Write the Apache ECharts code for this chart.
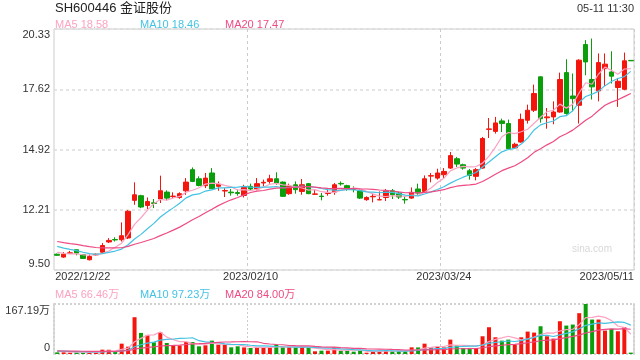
<!DOCTYPE html>
<html><head><meta charset="utf-8">
<script src="https://cdn.jsdelivr.net/npm/echarts@6/dist/echarts.min.js"></script>
<style>html,body{margin:0;padding:0;background:#fff}#c{width:640px;height:360px}</style>
</head><body><div id="c"></div>
<script>
const dates = ['2022/12/22','2022/12/23','2022/12/26','2022/12/27','2022/12/28','2022/12/29','2022/12/30',
'2023/01/03','2023/01/04','2023/01/05','2023/01/06','2023/01/09','2023/01/10','2023/01/11','2023/01/12','2023/01/13',
'2023/01/16','2023/01/17','2023/01/18','2023/01/19','2023/01/20','2023/01/30','2023/01/31',
'2023/02/01','2023/02/02','2023/02/03','2023/02/06','2023/02/07','2023/02/08','2023/02/09','2023/02/10',
'2023/02/13','2023/02/14','2023/02/15','2023/02/16','2023/02/17','2023/02/20','2023/02/21','2023/02/22','2023/02/23','2023/02/24',
'2023/02/27','2023/02/28','2023/03/01','2023/03/02','2023/03/03','2023/03/06','2023/03/07','2023/03/08','2023/03/09','2023/03/10',
'2023/03/13','2023/03/14','2023/03/15','2023/03/16','2023/03/17','2023/03/20','2023/03/21','2023/03/22','2023/03/23','2023/03/24',
'2023/03/27','2023/03/28','2023/03/29','2023/03/30','2023/03/31','2023/04/03','2023/04/04','2023/04/07',
'2023/04/10','2023/04/11','2023/04/12','2023/04/13','2023/04/14','2023/04/17','2023/04/18','2023/04/19','2023/04/20','2023/04/21',
'2023/04/24','2023/04/25','2023/04/26','2023/04/27','2023/04/28','2023/05/04','2023/05/05','2023/05/08','2023/05/09','2023/05/10','2023/05/11'];

const opens = [10.21,10.08,10.25,10.41,10.19,9.96,10.18,10.30,10.76,10.87,
10.86,10.94,12.63,12.84,12.40,12.52,12.69,13.00,12.80,12.76,
13.06,14.01,13.60,13.29,13.86,13.26,13.05,13.00,12.98,12.85,
13.26,13.14,13.41,13.48,13.60,13.45,12.93,13.33,13.03,13.38,
12.90,12.82,12.94,13.00,13.39,13.29,13.16,13.06,12.66,12.79,
12.65,12.76,13.06,12.96,12.67,12.73,13.14,13.03,13.72,13.63,
13.78,14.08,14.50,14.23,13.96,13.71,14.08,15.82,15.73,16.20,
16.08,14.99,15.25,16.23,16.68,18.18,16.34,16.38,16.60,18.37,
17.32,16.90,19.63,18.06,17.55,18.55,18.40,17.70,17.62,18.92];
const closes = [10.16,10.21,10.27,10.26,10.02,10.11,10.21,10.60,10.83,10.85,
11.04,12.14,12.88,12.33,12.58,12.49,13.06,12.73,12.82,12.93,
13.45,13.48,13.30,13.63,13.15,13.35,13.07,12.97,12.94,13.21,
13.14,13.38,13.44,13.60,13.41,12.81,13.26,13.11,13.33,12.93,
12.92,12.80,12.96,13.33,13.37,13.18,13.12,12.73,12.76,12.81,
12.66,13.05,12.88,12.78,12.65,12.99,12.96,13.60,13.74,13.86,
13.93,14.64,14.26,14.08,13.75,14.01,15.41,15.84,16.11,16.08,
14.95,15.15,16.27,16.68,17.43,16.30,16.38,16.60,18.06,16.53,
17.20,18.93,18.85,17.73,18.82,18.75,18.21,17.98,18.90,18.90];
const lows = [10.14,10.05,10.22,10.16,10.00,9.93,10.15,10.26,10.71,10.78,
10.78,10.89,12.43,12.28,12.24,12.28,12.51,12.63,12.73,12.70,
12.88,13.45,13.26,13.18,13.14,13.06,12.78,12.84,12.84,12.76,
13.08,13.08,13.26,13.38,13.33,12.78,12.88,12.93,12.88,12.91,
12.88,12.63,12.84,12.88,13.29,13.06,12.99,12.69,12.61,12.54,
12.65,12.60,12.69,12.69,12.48,12.70,12.88,13.00,13.44,13.56,
13.63,14.04,14.13,14.01,13.56,13.53,14.05,15.43,15.63,15.70,
14.92,14.95,15.22,16.08,16.60,16.12,15.85,16.05,16.57,16.48,
16.63,16.08,18.25,17.16,17.08,17.77,17.88,16.83,17.58,18.90];
const highs = [10.24,10.30,10.36,10.42,10.21,10.19,10.24,10.71,10.93,10.97,
11.64,12.19,13.44,12.88,12.76,12.69,13.74,13.08,12.99,12.99,
13.63,14.11,13.71,13.86,14.08,13.48,13.18,13.14,13.11,13.33,
13.38,13.63,13.56,13.78,13.89,13.48,13.38,13.48,13.59,13.41,
13.14,12.96,13.11,13.41,13.48,13.33,13.26,13.11,12.81,12.96,
13.03,13.14,13.14,13.02,12.81,13.21,13.38,13.75,13.86,14.05,
14.08,14.80,14.58,14.28,14.04,14.08,15.48,16.33,16.38,16.30,
16.26,15.22,16.53,16.93,17.83,18.20,16.78,17.08,18.37,18.97,
18.33,18.97,19.83,19.90,19.23,19.23,19.33,18.13,19.27,18.92];
// volume, 万股
const volumes = [5.5,5.8,4.5,5.4,5.6,6.7,6.5,14.5,14.2,9.0,
34.6,24.6,123.0,70.5,62.6,39.1,72.7,36.9,29.0,28.5,
40.2,40.0,25.7,29.0,44.7,31.3,31.0,22.3,25.7,22.0,
20.1,22.3,22.6,22.0,31.3,22.3,22.8,22.0,22.4,20.1,
9.0,11.1,11.3,22.3,11.0,11.1,7.8,11.2,4.4,7.8,
11.1,13.4,9.0,9.2,8.8,22.3,22.0,34.6,22.3,24.6,
22.1,48.1,29.0,20.1,20.3,20.0,59.3,89.5,55.9,44.7,
48.1,31.3,55.9,74.9,71.6,92.8,59.3,51.4,109.6,95.1,
98.4,136.5,167.19,115.2,115.2,78.3,83.9,76.0,89.5,4.6];
// sessions before the first visible one (only used for the moving averages)
const prevCloses = [11.20,11.12,11.05,11.00,11.08,10.98,10.95,10.90,10.85,10.87,
10.95,10.90,10.80,10.75,10.70,10.50,10.35,10.25,10.24];
const prevVolumes = [10,12,9,11,13,10,9,12,11,10,9,11,10,12,10,9,11,10,9];

const yTicks = ['9.50','12.21','14.92','17.62','20.33'];
const volTicks = ['0','167.19万'];
const volMax = 167.19;
const xTickIdx = [0,30,60,89];
const maPriceText = ['18.58','18.46','17.47'];
const maVolText = ['66.46万','97.23万','84.00万'];

const UP = '#f4150d', DOWN = '#0a9e0a';
const C5 = '#fba3c2', C10 = '#43c3e3', C20 = '#ee4a84';
const FONT = "'Liberation Sans', Arial, 'Noto Sans CJK SC', sans-serif";

function ma(src, prev, n){
  const all = prev.concat(src);
  return src.map((_, i) => {
    let s = 0;
    for (let k = 0; k < n; k++) s += all[prev.length + i - k];
    return +(s / n).toFixed(3);
  });
}
const kData = opens.map((o, i) => [o, closes[i], lows[i], highs[i]]);
const volData = volumes.map((v, i) => ({value: v, itemStyle: {color: closes[i] >= opens[i] ? UP : DOWN}}));
const splitIdx = [30, 60];

const chart = echarts.init(document.getElementById('c'), null, {renderer: 'canvas'});
const dotted = {color: '#d2d2d2', type: [2, 2], width: 2};
const lbl = {fontSize: 11, color: '#333', fontFamily: FONT};
function tt(text, left, top, color, extra){
  return Object.assign({text, left, top, padding: 0, textStyle: {fontSize: 11, fontWeight: 'normal', color, fontFamily: FONT}}, extra || {});
}
const option = {
  animation: false,
  textStyle: {fontFamily: FONT},
  title: [
    {text: 'SH600446 金证股份', left: 55, top: 2, padding: 0, textStyle: {fontSize: 13, fontWeight: 'normal', color: '#222', fontFamily: FONT}},
    {text: '05-11 11:30', right: 6, top: 3, padding: 0, textStyle: {fontSize: 11, fontWeight: 'normal', color: '#333', fontFamily: FONT}},
    tt('MA5 ' + maPriceText[0], 55, 19, C5),
    tt('MA10 ' + maPriceText[1], 140, 19, C10),
    tt('MA20 ' + maPriceText[2], 225, 19, C20),
    tt('MA5 ' + maVolText[0], 55, 289, C5),
    tt('MA10 ' + maVolText[1], 140, 289, C10),
    tt('MA20 ' + maVolText[2], 225, 289, C20)
  ],
  grid: [
    {left: 54, right: 6, top: 29, height: 241, show: true, borderColor: '#cccccc', borderWidth: 1, backgroundColor: 'transparent'},
    {left: 54, right: 6, top: 304, height: 50}
  ],
  xAxis: [
    {type: 'category', gridIndex: 0, data: dates, boundaryGap: true,
     axisLine: {show: false}, axisTick: {show: false}, axisLabel: {show: false},
     splitLine: {show: true, interval: (i) => splitIdx.includes(i), lineStyle: {color: '#cccccc', type: [3, 3], width: 1}}},
    {type: 'category', gridIndex: 1, data: dates, boundaryGap: true,
     axisLine: {show: false}, axisTick: {show: false}, axisLabel: {show: false},
     splitLine: {show: true, interval: (i) => splitIdx.includes(i), lineStyle: {color: '#cccccc', type: [2, 2], width: 1}}}
  ],
  yAxis: [
    {type: 'value', gridIndex: 0, min: 9.5, max: 20.33, show: false, scale: true},
    {type: 'value', gridIndex: 0, min: 0, max: 4, interval: 1, position: 'left',
     axisLine: {show: false}, axisTick: {show: false},
     axisLabel: Object.assign({margin: 4, formatter: (v) => {
        const i = Math.round(v);
        if (i === yTicks.length - 1) return '{t|' + yTicks[i] + '}';
        if (i === 0) return '{b|' + yTicks[i] + '}';
        return yTicks[i];
      }, rich: {t: Object.assign({padding: [12, 0, 0, 0]}, lbl), b: Object.assign({padding: [0, 0, 12, 0]}, lbl)}}, lbl),
     splitLine: {show: true, lineStyle: {color: '#dddddd', type: [3, 3], width: 1.5}}},
    {type: 'value', gridIndex: 1, min: 0, max: volMax, interval: volMax, position: 'left',
     axisLine: {show: true, lineStyle: dotted}, axisTick: {show: false},
     axisLabel: Object.assign({margin: 4, formatter: (v) => v > 0 ? '{t|' + volTicks[1] + '}' : '{b|' + volTicks[0] + '}',
       rich: {t: Object.assign({padding: [13, 0, 0, 0]}, lbl), b: Object.assign({padding: [0, 0, 12, 0]}, lbl)}}, lbl),
     splitLine: {show: true, lineStyle: dotted}},
    {type: 'value', gridIndex: 1, min: 0, max: volMax, position: 'right',
     axisLine: {show: true, lineStyle: dotted}, axisTick: {show: false}, axisLabel: {show: false}, splitLine: {show: false}}
  ],
  series: [
    {type: 'candlestick', xAxisIndex: 0, yAxisIndex: 0, data: kData, barWidth: 5,
     itemStyle: {color: UP, color0: DOWN, borderColor: UP, borderColor0: DOWN, borderWidth: 1}},
    {type: 'line', xAxisIndex: 0, yAxisIndex: 0, data: ma(closes, prevCloses, 5), showSymbol: false, lineStyle: {color: C5, width: 1.2}, z: 3},
    {type: 'line', xAxisIndex: 0, yAxisIndex: 0, data: ma(closes, prevCloses, 10), showSymbol: false, lineStyle: {color: C10, width: 1.2}, z: 3},
    {type: 'line', xAxisIndex: 0, yAxisIndex: 0, data: ma(closes, prevCloses, 20), showSymbol: false, lineStyle: {color: C20, width: 1.2}, z: 3},
    {type: 'bar', xAxisIndex: 1, yAxisIndex: 2, data: volData, barWidth: 4},
    {type: 'line', xAxisIndex: 1, yAxisIndex: 2, data: ma(volumes, prevVolumes, 5), showSymbol: false, lineStyle: {color: C5, width: 1.2}, z: 3},
    {type: 'line', xAxisIndex: 1, yAxisIndex: 2, data: ma(volumes, prevVolumes, 10), showSymbol: false, lineStyle: {color: C10, width: 1.2}, z: 3},
    {type: 'line', xAxisIndex: 1, yAxisIndex: 2, data: ma(volumes, prevVolumes, 20), showSymbol: false, lineStyle: {color: C20, width: 1.2}, z: 3}
  ]
};
chart.setOption(option);

// date labels under the price panel, placed through the category scale
const graphics = xTickIdx.map((idx, k) => {
  const px = chart.convertToPixel({xAxisIndex: 0}, idx);
  let align = 'center', x = px;
  if (k === 0) { align = 'left'; x = px - 2; }
  if (k === xTickIdx.length - 1) { align = 'right'; x = px + 3; }
  return {type: 'text', x: x, y: 277, style: {text: dates[idx], fill: '#333', font: '11px ' + FONT, textAlign: align, textVerticalAlign: 'middle'}};
});
graphics.push({type: 'text', x: 612, y: 249, style: {text: 'sina.com', fill: '#d8d8d8', font: '10px ' + FONT, textAlign: 'right', textVerticalAlign: 'middle'}});
chart.setOption({graphic: graphics});
</script>
</body></html>
